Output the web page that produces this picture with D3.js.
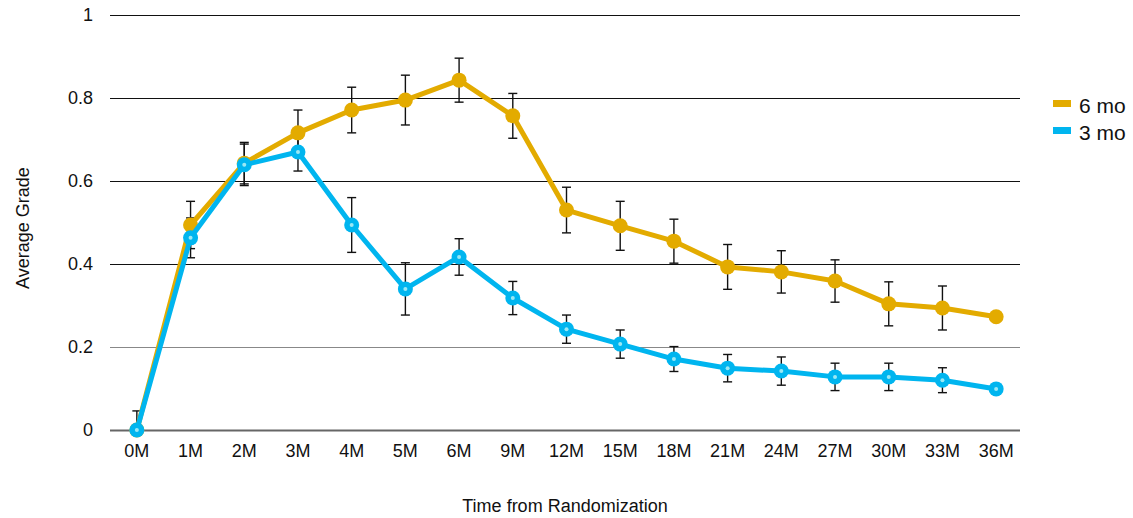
<!DOCTYPE html>
<html>
<head>
<meta charset="utf-8">
<script src="https://cdn.jsdelivr.net/npm/d3@7"></script>
<style>
    body { margin: 0; background: #fff; }
    text { font-family: "Liberation Sans", Arial, sans-serif; fill: #111; }
</style>
</head>
<body>
<div id="chart"></div>
<script>
const categories = ["0M", "1M", "2M", "3M", "4M", "5M", "6M", "9M", "12M", "15M", "18M", "21M", "24M", "27M", "30M", "33M", "36M"];
const sixMo = [0, 0.494, 0.643, 0.716, 0.771, 0.795, 0.843, 0.757, 0.530, 0.492, 0.455, 0.393, 0.381, 0.359, 0.304, 0.294, 0.273];
const sixMoErr = [0.046, 0.057, 0.05, 0.055, 0.055, 0.06, 0.053, 0.054, 0.055, 0.059, 0.053, 0.054, 0.051, 0.051, 0.053, 0.053, 0];
const threeMo = [0, 0.463, 0.639, 0.670, 0.494, 0.340, 0.417, 0.318, 0.243, 0.207, 0.171, 0.149, 0.142, 0.128, 0.128, 0.120, 0.099];
const threeMoErr = [0, 0.048, 0.05, 0.046, 0.066, 0.063, 0.044, 0.04, 0.034, 0.034, 0.03, 0.033, 0.034, 0.033, 0.033, 0.03, 0];
const yTicks = [0, 0.2, 0.4, 0.6, 0.8, 1];

const series = [
    { name: "6 mo", values: sixMo, err: sixMoErr, color: "#e3ab00" },
    { name: "3 mo", values: threeMo, err: threeMoErr, color: "#00b5ef" }
];

const width = 1133, height = 518;
const svg = d3.select("#chart").append("svg")
    .attr("width", width)
    .attr("height", height);

const x = d3.scaleBand()
    .domain(categories)
    .range([110, 1023]);

const y = d3.scaleLinear()
    .domain([0, 1])
    .range([430, 15]);

const cx = d => x(d) + x.bandwidth() / 2;

// gridlines
svg.append("g")
    .selectAll("line")
    .data(yTicks)
    .enter()
    .append("line")
    .attr("x1", 110)
    .attr("x2", 1020)
    .attr("y1", d => Math.round(y(d)) + 0.5)
    .attr("y2", d => Math.round(y(d)) + 0.5)
    .attr("stroke", d => d === 0 ? "#666" : d < 0.3 ? "#888" : "#111")
    .attr("stroke-width", d => d === 0 ? 2 : 1);

// y axis labels
svg.append("g")
    .selectAll("text")
    .data(yTicks)
    .enter()
    .append("text")
    .attr("x", 93)
    .attr("y", d => y(d))
    .attr("dy", "0.35em")
    .attr("text-anchor", "end")
    .style("font-size", "18px")
    .text(d => d);

// x axis labels
svg.append("g")
    .selectAll("text")
    .data(categories)
    .enter()
    .append("text")
    .attr("x", d => cx(d))
    .attr("y", 457)
    .attr("text-anchor", "middle")
    .style("font-size", "18px")
    .text(d => d);

svg.append("text")
    .attr("transform", "translate(29,228) rotate(-90)")
    .attr("text-anchor", "middle")
    .style("font-size", "18px")
    .text("Average Grade");

svg.append("text")
    .attr("x", 565)
    .attr("y", 512)
    .attr("text-anchor", "middle")
    .style("font-size", "18px")
    .text("Time from Randomization");

// error bars (lower end stops at zero)
series.forEach(s => {
    const g = svg.append("g").attr("stroke", "#111").attr("stroke-width", 1.4);
    const rows = categories.map((c, i) => ({ c: c, v: s.values[i], e: s.err[i] })).filter(d => d.e > 0);
    const lo = d => y(Math.max(0, d.v - d.e));
    g.selectAll(".bar").data(rows).enter().append("line")
        .attr("x1", d => cx(d.c)).attr("x2", d => cx(d.c))
        .attr("y1", lo).attr("y2", d => y(d.v + d.e));
    g.selectAll(".top").data(rows).enter().append("line")
        .attr("x1", d => cx(d.c) - 4.5).attr("x2", d => cx(d.c) + 4.5)
        .attr("y1", d => y(d.v + d.e)).attr("y2", d => y(d.v + d.e));
    g.selectAll(".bot").data(rows.filter(d => d.v - d.e > 0)).enter().append("line")
        .attr("x1", d => cx(d.c) - 4.5).attr("x2", d => cx(d.c) + 4.5)
        .attr("y1", lo).attr("y2", lo);
});

const line = d3.line()
    .x((d, i) => cx(categories[i]))
    .y(d => y(d));

// 6 mo
svg.append("path")
    .datum(sixMo)
    .attr("fill", "none")
    .attr("stroke", series[0].color)
    .attr("stroke-width", 5)
    .attr("stroke-linejoin", "round")
    .attr("d", line);

svg.append("g")
    .selectAll("circle")
    .data(sixMo)
    .enter()
    .append("circle")
    .attr("cx", (d, i) => cx(categories[i]))
    .attr("cy", d => y(d))
    .attr("r", 7.5)
    .attr("fill", series[0].color);

// 3 mo
svg.append("path")
    .datum(threeMo)
    .attr("fill", "none")
    .attr("stroke", series[1].color)
    .attr("stroke-width", 5)
    .attr("stroke-linejoin", "round")
    .attr("d", line);

const dots = svg.append("g")
    .selectAll("g")
    .data(threeMo)
    .enter()
    .append("g")
    .attr("transform", (d, i) => `translate(${cx(categories[i])},${y(d)})`);

dots.append("circle")
    .attr("r", 7.5)
    .attr("fill", series[1].color);

dots.append("circle")
    .attr("r", 2)
    .attr("fill", "#9be8f4");

// legend
const legend = svg.append("g")
    .selectAll("g")
    .data(series)
    .enter()
    .append("g")
    .attr("transform", (d, i) => `translate(1053,${106 + i * 27})`);

legend.append("rect")
    .attr("x", 0)
    .attr("y", -6)
    .attr("width", 18)
    .attr("height", 7)
    .attr("fill", d => d.color);

legend.append("text")
    .attr("x", 26)
    .attr("y", 7)
    .style("font-size", "21px")
    .text(d => d.name);
</script>
</body>
</html>
